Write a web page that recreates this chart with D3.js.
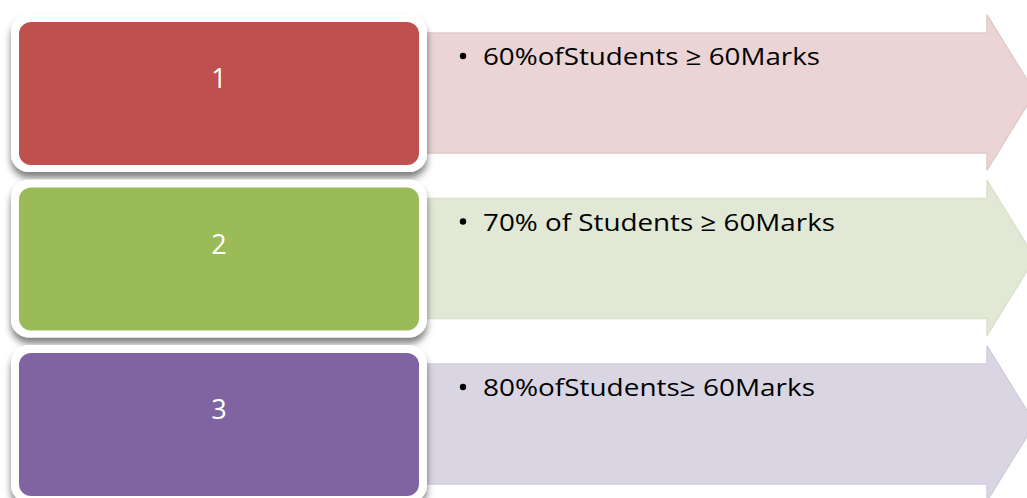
<!DOCTYPE html>
<html>
<head>
<meta charset="utf-8">
<script src="https://cdn.jsdelivr.net/npm/d3@7/dist/d3.min.js"></script>
<style>
  html, body { margin: 0; padding: 0; background: #ffffff; }
  svg { display: block; }
</style>
</head>
<body>
<svg id="chart" width="1027" height="498"></svg>
<script>
// ---- data ----
const steps = ["1", "2", "3"];
const descriptions = [
  "60%ofStudents \u2265 60Marks",
  "70% of Students \u2265 60Marks",
  "80%ofStudents\u2265 60Marks"
];
const boxColors = ["#C0504D", "#9BBB59", "#8064A2"];
const arrowColors = ["#EAD4D5", "#E1E8D5", "#DAD5E3"];
const arrowEdges = ["#E4C9CA", "#D9E2CA", "#D3CDDE"];
const textWidths = [337, 352, 332];

// ---- layout ----
const W = 1027, H = 498;
const svg = d3.select("#chart");
const FONT = "'Open Sans', 'Noto Sans', sans-serif";

const defs = svg.append("defs");
const f = defs.append("filter").attr("id", "shadow")
  .attr("x", "-10%").attr("y", "-10%").attr("width", "120%").attr("height", "135%");
f.append("feDropShadow").attr("dx", 0).attr("dy", 6).attr("stdDeviation", 3.5)
  .attr("flood-color", "#000").attr("flood-opacity", 0.5);

const y = d3.scaleLinear().domain([0, steps.length]).range([22, 22 + steps.length * 165.5]);
const boxH = 143;
const x = d3.scaleLinear().domain([0, 1]).range([19, 419]); // box extents

const rows = svg.selectAll("g.row")
  .data(steps.map((s, i) => ({ s, i, d: descriptions[i] })))
  .join("g").attr("class", "row");

// arrows (behind)
rows.append("path")
  .attr("d", d => {
    const t = y(d.i);
    const p = d3.path();
    const bx0 = 420, notch = 987, tip = 1035;
    p.moveTo(bx0, t + 11);
    p.lineTo(notch, t + 11);
    p.lineTo(notch, t - 7);
    p.lineTo(tip, t + 70.5);
    p.lineTo(notch, t + 148);
    p.lineTo(notch, t + 131);
    p.lineTo(bx0, t + 131);
    p.closePath();
    return p.toString();
  })
  .attr("fill", d => arrowColors[d.i])
  .attr("stroke", d => arrowEdges[d.i])
  .attr("stroke-width", 1.5)
  .attr("stroke-linejoin", "round");

// description text
rows.append("circle")
  .attr("cx", 463)
  .attr("cy", d => y(d.i) + 34)
  .attr("r", 3.2)
  .attr("fill", "#000");

rows.append("text")
  .attr("x", 483)
  .attr("y", d => y(d.i) + 43)
  .attr("font-family", FONT)
  .attr("font-size", 24.5)
  .attr("fill", "#000")
  .attr("textLength", d => textWidths[d.i])
  .attr("lengthAdjust", "spacingAndGlyphs")
  .text(d => d.d);

// boxes: white frame with shadow, then colored
rows.append("rect")
  .attr("x", x(0) - 8).attr("y", d => y(d.i) - 8)
  .attr("width", x(1) - x(0) + 16).attr("height", boxH + 15)
  .attr("rx", 18).attr("ry", 18)
  .attr("fill", "#ffffff")
  .attr("filter", "url(#shadow)");

rows.append("rect")
  .attr("x", x(0)).attr("y", d => y(d.i))
  .attr("width", x(1) - x(0)).attr("height", boxH)
  .attr("rx", 12).attr("ry", 12)
  .attr("fill", d => boxColors[d.i]);

rows.append("text")
  .attr("x", (x(0) + x(1)) / 2)
  .attr("y", d => y(d.i) + 66)
  .attr("text-anchor", "middle")
  .attr("font-family", FONT)
  .attr("font-size", 27)
  .attr("fill", "#ffffff")
  .text(d => d.s);
</script>
</body>
</html>
